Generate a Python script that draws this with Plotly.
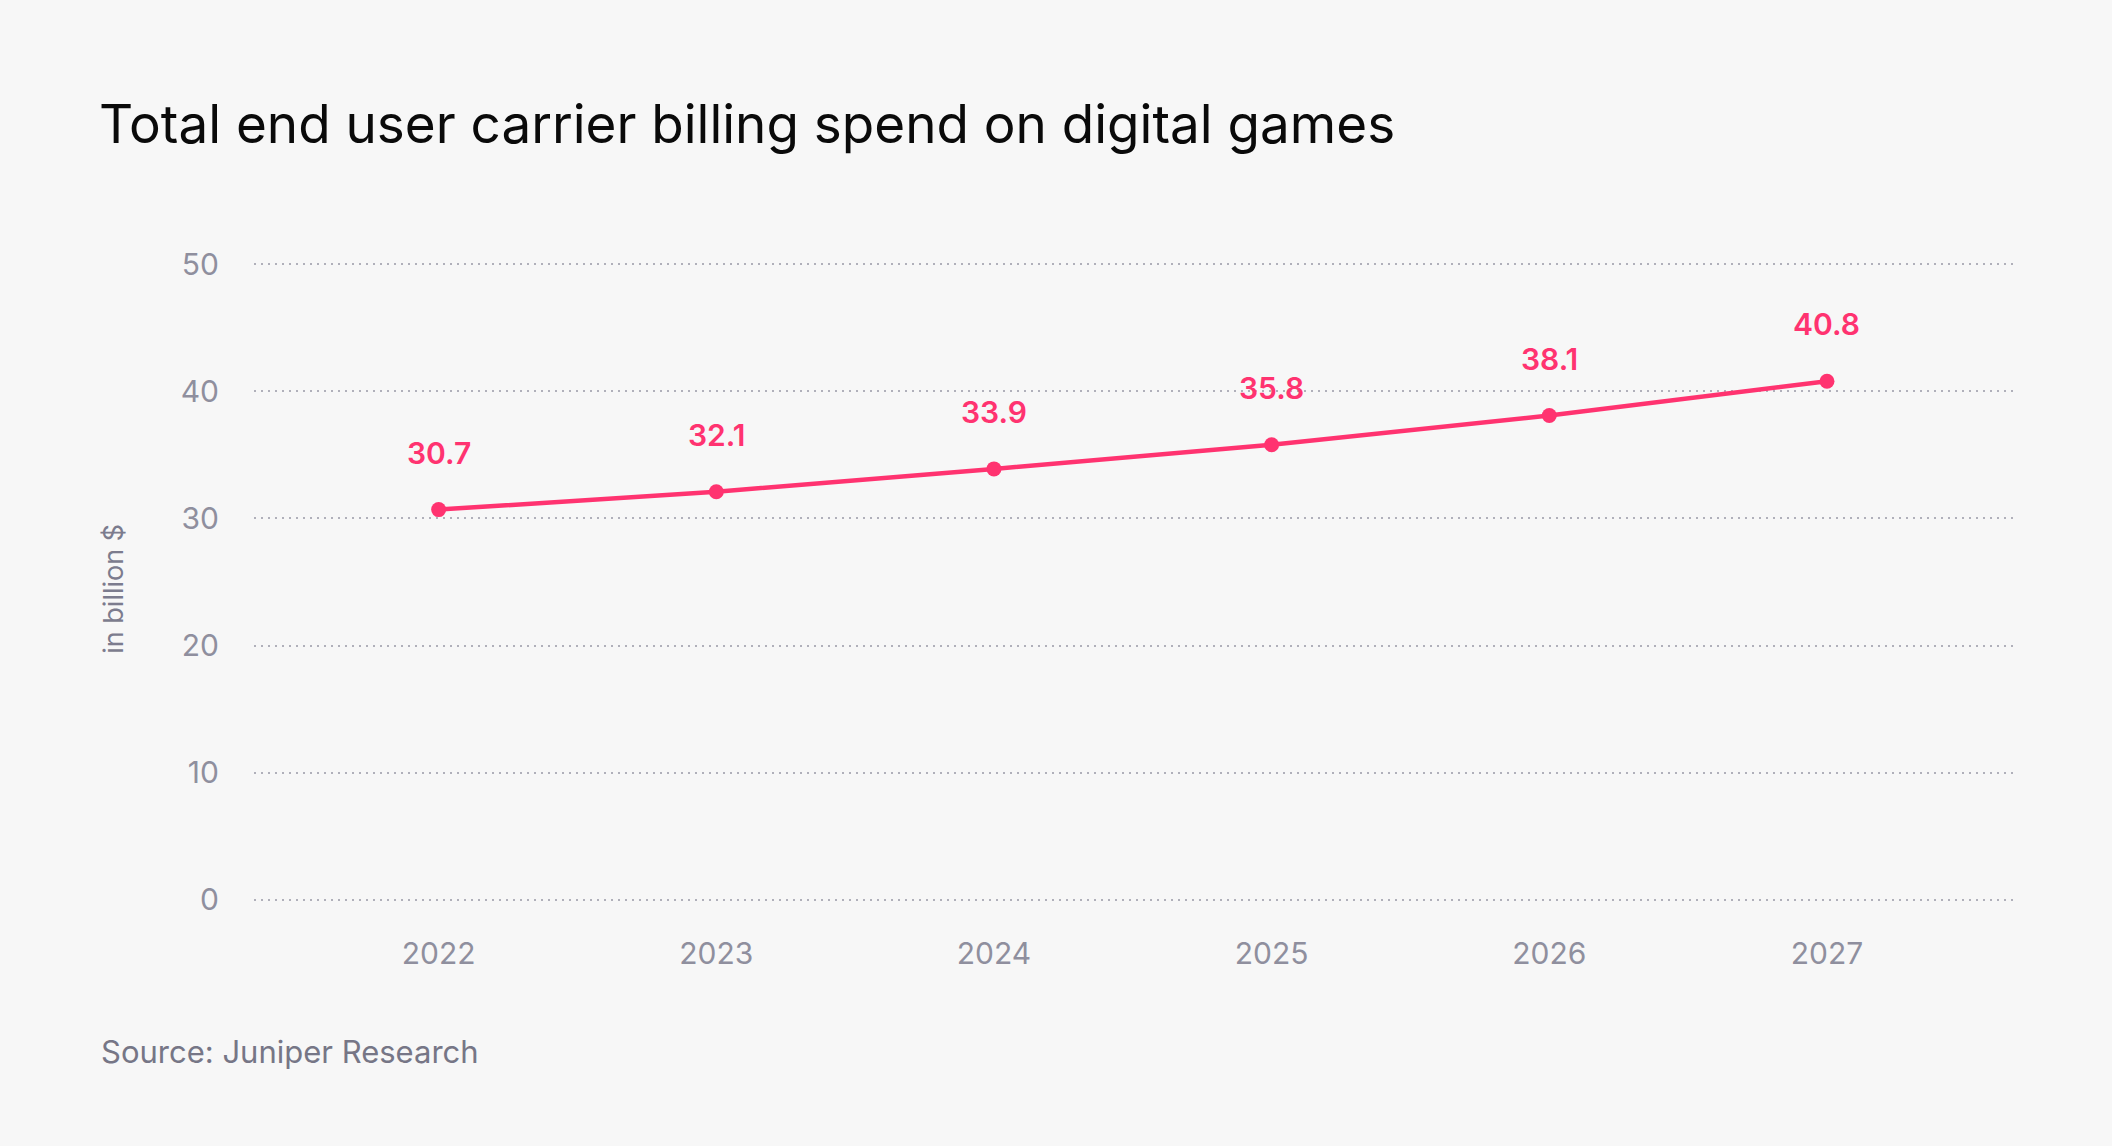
import plotly.graph_objects as go

years = ["2022", "2023", "2024", "2025", "2026", "2027"]
spend = [30.7, 32.1, 33.9, 35.8, 38.1, 40.8]
y_ticks = [0, 10, 20, 30, 40, 50]

PINK = "#ff3370"
GRAY = "#8f8f9e"
FONT = "Inter"

fig = go.Figure()
fig.add_trace(go.Scatter(
    x=list(range(len(years))), y=spend, mode="lines+markers",
    line=dict(color=PINK, width=4.5),
    marker=dict(color=PINK, size=15),
    hoverinfo="skip", showlegend=False,
))

for i, v in enumerate(spend):
    fig.add_annotation(x=i, y=v, text=f"{v}", showarrow=False,
                       yanchor="middle", yshift=57,
                       font=dict(family=FONT, size=30, color=PINK, weight=600))

fig.update_layout(
    width=2112, height=1146, autosize=False,
    paper_bgcolor="#f7f7f7", plot_bgcolor="#f7f7f7",
    margin=dict(l=254, r=99, t=258, b=240),
    font=dict(family=FONT, color=GRAY),
    xaxis=dict(range=[-0.665, 5.67], tickmode="array",
               tickvals=list(range(len(years))), ticktext=years,
               showgrid=False, zeroline=False, showline=False,
               ticks="", ticklabelstandoff=27,
               tickfont=dict(family=FONT, size=30, color=GRAY)),
    yaxis=dict(range=[-0.5, 50.5], tickvals=y_ticks, showgrid=True,
               gridcolor="#b0b0ba", gridwidth=2, griddash="2px,5px",
               zeroline=False, showline=False, ticks="",
               ticklabelstandoff=34,
               tickfont=dict(family=FONT, size=30, color=GRAY)),
)

fig.add_annotation(xref="paper", yref="paper", x=-0.08, y=0.49,
                   text="in billion $", textangle=-90, showarrow=False,
                   xanchor="center", yanchor="middle",
                   font=dict(family=FONT, size=27, color="#7c7c8e"))

fig.add_annotation(xref="paper", yref="paper", x=-0.0895, y=1.207,
                   text="Total end user carrier billing spend on digital games",
                   showarrow=False, xanchor="left", yanchor="middle",
                   font=dict(family=FONT, size=53, color="#0a0a0a"))

fig.add_annotation(xref="paper", yref="paper", x=-0.088, y=-0.225,
                   text="Source: Juniper Research", showarrow=False,
                   xanchor="left", yanchor="middle",
                   font=dict(family=FONT, size=31, color="#767686"))

fig.write_html("out.html", config={"displayModeBar": False},
               post_script="document.body.style.margin='0';"
                           "document.body.style.background='#f7f7f7';")
